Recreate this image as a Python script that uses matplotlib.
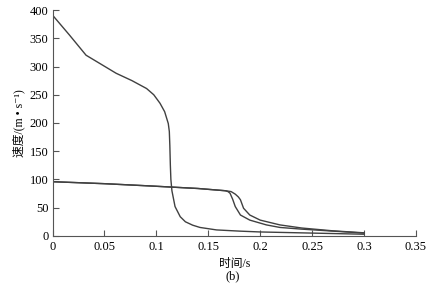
import numpy as np
import matplotlib.pyplot as plt

plt.rcParams['font.family'] = ['Liberation Serif', 'Noto Sans CJK SC', 'DejaVu Sans']

# Curva 1: velocidad inicial alta
t1 = [0, 0.0162, 0.0323, 0.045, 0.0613, 0.0765, 0.0906, 0.0975, 0.1035, 0.108, 0.1115,
      0.1125, 0.1130, 0.1135, 0.1140, 0.1150, 0.118, 0.123, 0.128, 0.135, 0.142, 0.158,
      0.18, 0.2, 0.25, 0.3]
v1 = [391, 356, 320, 306, 288, 275, 261, 250, 235, 220, 199,
      185, 160, 125, 100, 80, 52, 34, 25, 19, 15, 10.6,
      8.5, 7, 5, 3]

# Curva 2: caida temprana
t2 = [0, 0.05, 0.0939, 0.14, 0.1665, 0.169, 0.171, 0.1735, 0.176, 0.181, 0.19, 0.206,
      0.219, 0.24, 0.27, 0.3]
v2 = [96, 92.5, 88.5, 84, 80, 78.5, 75.5, 65, 52, 37, 28, 19.5,
      15, 12, 8.5, 5]

# Curva 3: caida tardia
t3 = [0, 0.05, 0.0939, 0.14, 0.1665, 0.172, 0.176, 0.179, 0.181, 0.184, 0.19, 0.2,
      0.219, 0.24, 0.27, 0.3]
v3 = [96, 92.5, 88.5, 84, 80, 78.5, 74, 69, 64, 49, 37, 28,
      19.5, 14, 9, 5.5]

fig = plt.figure(figsize=(4.27, 2.87), dpi=100)
ax = fig.add_axes([0.123, 0.178, 0.851, 0.787])

color = '#404040'
ax.plot(t1, v1, color=color, lw=1.0)
ax.plot(t2, v2, color=color, lw=1.0)
ax.plot(t3, v3, color=color, lw=1.0)

ax.set_xlim(0, 0.35)
ax.set_ylim(0, 400)
ax.set_xticks(np.arange(0, 0.351, 0.05))
ax.set_xticklabels(['0', '0.05', '0.1', '0.15', '0.2', '0.25', '0.3', '0.35'])
ax.set_yticks(np.arange(0, 401, 50))
ax.spines['top'].set_visible(False)
ax.spines['right'].set_visible(False)
for s in ['left', 'bottom']:
    ax.spines[s].set_color('#555555')
    ax.spines[s].set_linewidth(0.8)
ax.tick_params(direction='in', length=4, width=0.8, color='#555555', labelsize=9)
ax.tick_params(axis='x', pad=4)
ax.tick_params(axis='y', pad=3)

ax.set_ylabel('速度/(m • s⁻¹)', fontsize=8.5, labelpad=3)
ax.set_xlabel('时间/s', fontsize=8.5, labelpad=3)
fig.text(0.546, 0.028, '(b)', ha='center', fontsize=9)

plt.savefig('out.png', dpi=100)
